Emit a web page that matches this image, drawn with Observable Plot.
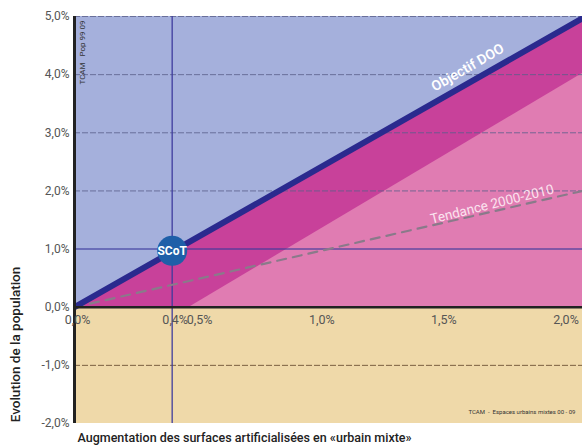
<!DOCTYPE html>
<html><head><meta charset="utf-8">
<script src="https://cdn.jsdelivr.net/npm/d3@7"></script>
<script src="https://cdn.jsdelivr.net/npm/@observablehq/plot@0.6"></script>
<style>body{margin:0;background:#fff;} svg{display:block}</style>
</head><body><div id="chart"></div>
<script>
// ---- data ----
const xTicks = [0, 0.4, 0.5, 1.0, 1.5, 2.0];
const yTicks = [-2, -1, 0, 1, 2, 3, 4, 5];
const xDomain = [0, 2.08];
const yDomain = [-2, 5];
const objectifX = [0, 2.08];
const objectifY = [0, 4.97];
const lowerX = [0, 0.47, 2.08];
const lowerY = [0, 0, 4.02];
const tendanceX = [0, 2.08];
const tendanceY = [0, 2.0];
const scot = [{x: 0.4, y: 0.97, label: "SCoT"}];
const dashedGrid = [2, 3, 4, 5];
const highlightY = [1];
const negativeGrid = [-1];
const highlightX = [0.4];
const zones = [{lo: -2, hi: 0, zone: "baisse"}, {lo: 0, hi: 5, zone: "hausse"}];
const labelObjectif = [{x: 1.61, y: 4.12, text: "Objectif DOO"}];
const labelTendance = [{x: 1.71, y: 1.77, text: "Tendance 2000-2010"}];
const yTitle = "Evolution de la population";
const xTitle = "Augmentation des surfaces artificialisées en «urbain mixte»";
const noteY = "TCAM   Pop 99 09";
const noteX = "TCAM  -  Espaces urbains mixtes 00 - 09";

const objectif = objectifX.map((x, i) => ({x, y: objectifY[i]}));
const lower = lowerX.map((x, i) => ({x, y: lowerY[i]}));
const tendance = tendanceX.map((x, i) => ({x, y: tendanceY[i]}));
const fmt = d => d.toFixed(1).replace(".", ",") + "%";

const FONT = "Roboto, 'DejaVu Sans', sans-serif";

const chart = Plot.plot({
  width: 586, height: 448,
  marginLeft: 74, marginRight: 4, marginTop: 16, marginBottom: 25,
  x: {domain: xDomain, axis: null},
  y: {domain: yDomain, axis: null},
  style: {fontFamily: FONT, background: "white"},
  marks: [
    Plot.rect(zones.filter(d => d.zone === "baisse"), {x1: xDomain[0], x2: xDomain[1], y1: "lo", y2: "hi", fill: "#efd9a9"}),
    Plot.rect(zones.filter(d => d.zone === "hausse"), {x1: xDomain[0], x2: xDomain[1], y1: "lo", y2: "hi", fill: "#e07cb2"}),
    Plot.areaY(lower, {x: "x", y1: "y", y2: yDomain[1], fill: "#c8419a", curve: "linear", clip: true}),
    Plot.areaY(objectif, {x: "x", y1: "y", y2: yDomain[1], fill: "#a5b0dc", curve: "linear", clip: true}),
    Plot.ruleY(dashedGrid, {stroke: "#5a5f8a", strokeWidth: 1, strokeDasharray: "6,2", strokeOpacity: 0.8}),
    Plot.ruleY(negativeGrid, {stroke: "#7a6040", strokeWidth: 1, strokeDasharray: "6,2"}),
    Plot.ruleY(highlightY, {stroke: "#3c3a9c", strokeWidth: 1.5, strokeOpacity: 0.75}),
    Plot.ruleX(highlightX, {stroke: "#3c3a9c", strokeWidth: 1.5, strokeOpacity: 0.85}),
    Plot.line(tendance, {x: "x", y: "y", stroke: "#8a7a8a", strokeWidth: 2.2, strokeDasharray: "9,7", clip: true}),
    Plot.line(objectif, {x: "x", y: "y", stroke: "#2a2a8e", strokeWidth: 6, clip: true}),
    Plot.ruleY([0], {stroke: "#222", strokeWidth: 2.5}),
    Plot.ruleX([0], {stroke: "#222", strokeWidth: 3}),
    Plot.axisY(yTicks, {tickSize: 0, tickPadding: 5, tickFormat: fmt, fontSize: 12, fill: "#555", label: null}),
    Plot.text(xTicks, {x: d => d, y: 0, dy: 13, dx: 3, text: fmt, fontSize: 12.5, fill: "#555"}),
    Plot.text(labelObjectif, {x: "x", y: "y", text: "text", rotate: -30, fill: "white", fontSize: 14, fontWeight: 600}),
    Plot.text(labelTendance, {x: "x", y: "y", text: "text", rotate: -14, fill: "#fbe3ef", fontSize: 13.5}),
    Plot.dot(scot, {x: "x", y: "y", r: 15, fill: "#1e5fa8"}),
    Plot.text(scot, {x: "x", y: "y", text: "label", fill: "white", fontSize: 12, fontWeight: "bold"}),
    Plot.text([noteY], {frameAnchor: "top-left", dx: 8, dy: 36, rotate: -90, textAnchor: "middle", lineAnchor: "middle", text: d => d, fontSize: 8, fill: "#333"}),
    Plot.text([noteX], {frameAnchor: "bottom-right", dx: -7, dy: -11, textAnchor: "end", lineAnchor: "middle", text: d => d, fontSize: 6, fill: "#333"}),
    Plot.text([yTitle], {frameAnchor: "bottom-left", dx: -59, dy: -79, rotate: -90, textAnchor: "middle", lineAnchor: "middle", text: d => d, fontSize: 13.5, fontWeight: 500, fill: "#222"}),
    Plot.text([xTitle], {frameAnchor: "bottom-left", dx: 3, dy: 14, textAnchor: "start", lineAnchor: "middle", text: d => d, fontSize: 12.5, fontWeight: 500, fill: "#222"})
  ]
});
document.getElementById("chart").appendChild(chart);
</script>
</body></html>
